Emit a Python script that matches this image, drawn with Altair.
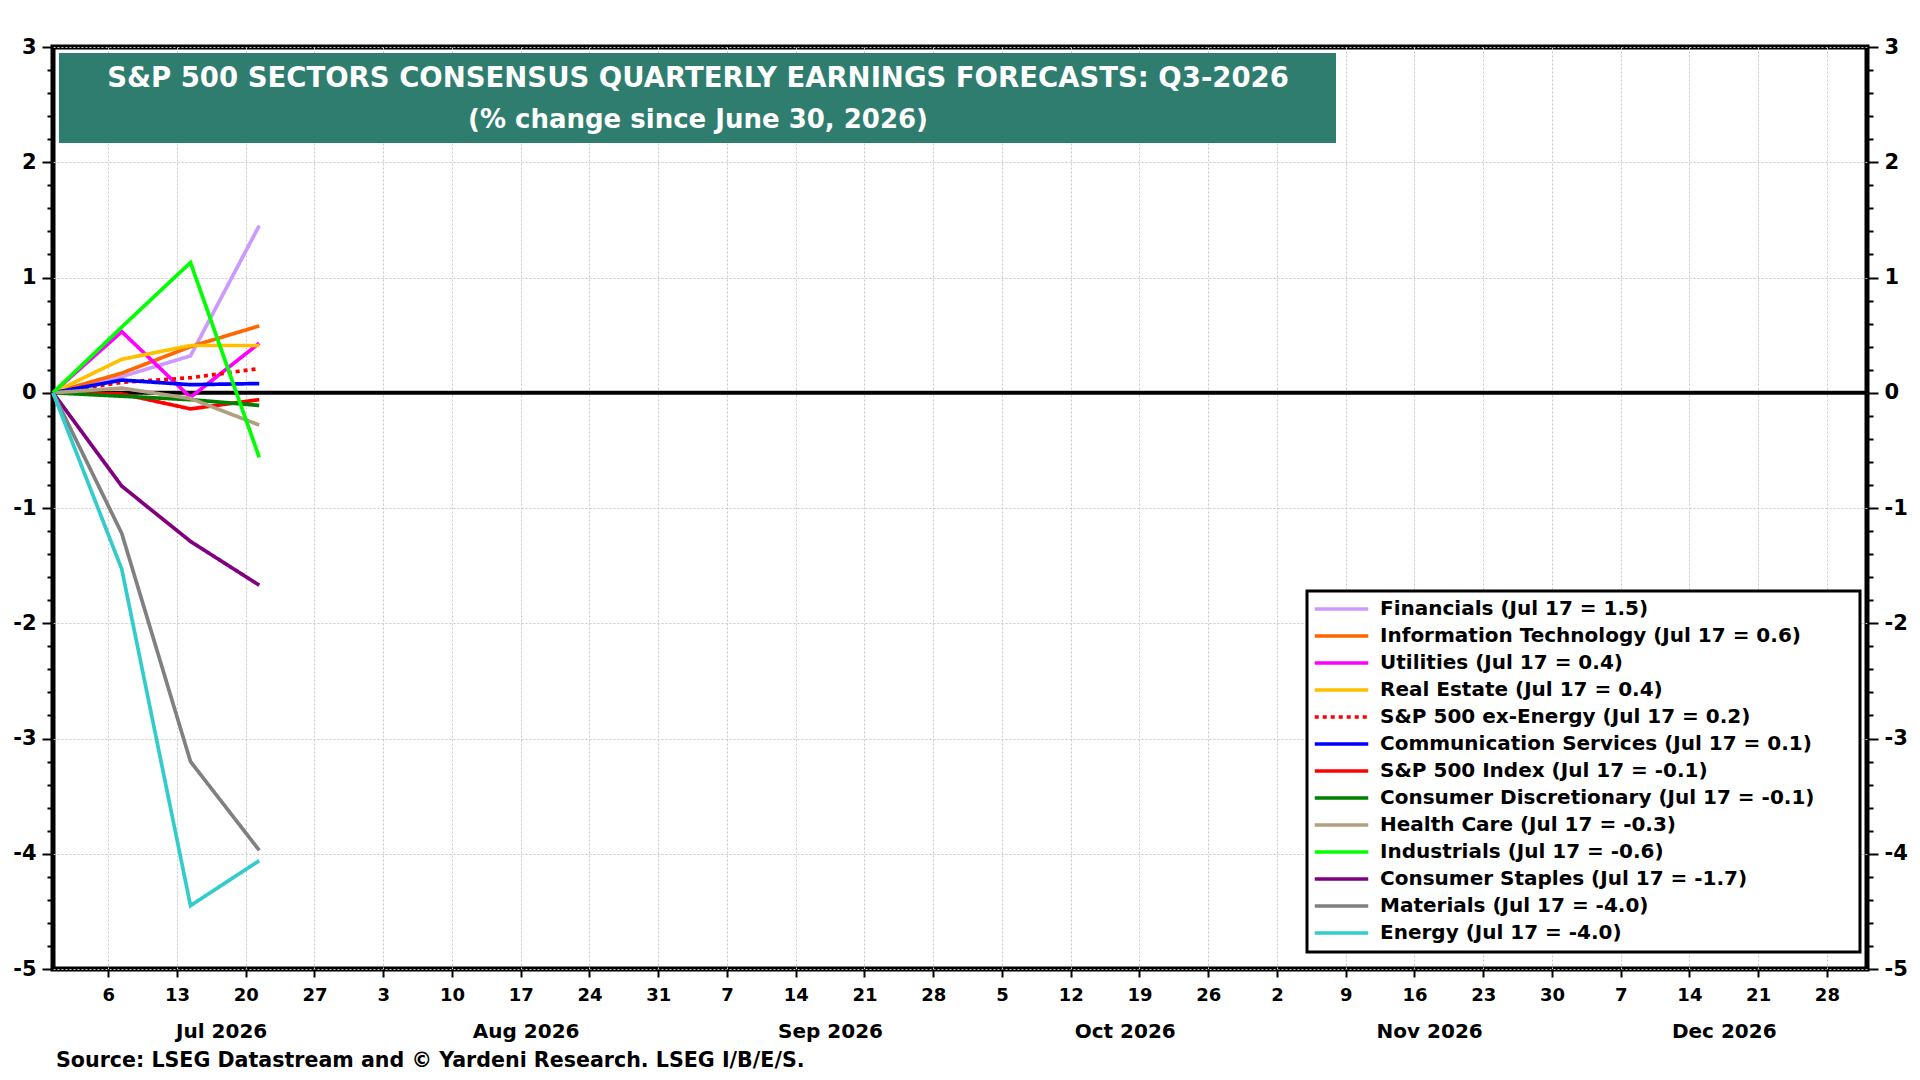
import altair as alt
import pandas as pd

# ---------------- data ----------------
dates = ["2026-06-30T09:00:00Z", "2026-07-07T09:00:00Z",
         "2026-07-14T09:00:00Z", "2026-07-21T09:00:00Z"]

series_names = [
    "Financials (Jul 17 = 1.5)",
    "Information Technology (Jul 17 = 0.6)",
    "Utilities (Jul 17 = 0.4)",
    "Real Estate (Jul 17 = 0.4)",
    "S&P 500 ex-Energy (Jul 17 = 0.2)",
    "Communication Services (Jul 17 = 0.1)",
    "S&P 500 Index (Jul 17 = -0.1)",
    "Consumer Discretionary (Jul 17 = -0.1)",
    "Health Care (Jul 17 = -0.3)",
    "Industrials (Jul 17 = -0.6)",
    "Consumer Staples (Jul 17 = -1.7)",
    "Materials (Jul 17 = -4.0)",
    "Energy (Jul 17 = -4.0)",
]

financials = [0.0, 0.14, 0.32, 1.45]
info_tech = [0.0, 0.17, 0.40, 0.58]
utilities = [0.0, 0.53, -0.04, 0.43]
real_estate = [0.0, 0.29, 0.41, 0.41]
sp500_ex_energy = [0.0, 0.09, 0.13, 0.21]
comm_services = [0.0, 0.11, 0.07, 0.08]
sp500 = [0.0, -0.01, -0.14, -0.06]
cons_disc = [0.0, -0.03, -0.06, -0.11]
health_care = [0.0, 0.04, -0.05, -0.28]
industrials = [0.0, 0.57, 1.13, -0.56]
cons_staples = [0.0, -0.81, -1.29, -1.67]
materials = [0.0, -1.22, -3.20, -3.97]
energy = [0.0, -1.53, -4.45, -4.06]

series_values = [financials, info_tech, utilities, real_estate, sp500_ex_energy,
                 comm_services, sp500, cons_disc, health_care, industrials,
                 cons_staples, materials, energy]

series_colors = ["#CC99FF", "#FF6600", "#FF00FF", "#FFC000", "#FF0000",
                 "#0000FF", "#FF0000", "#008000", "#B0A080", "#00FF00",
                 "#800080", "#808080", "#33CCCC"]
series_dash = [[1, 0], [1, 0], [1, 0], [1, 0], [4, 4],
               [1, 0], [1, 0], [1, 0], [1, 0], [1, 0],
               [1, 0], [1, 0], [1, 0]]

# x tick labels (Mondays) and month labels
monday_ticks = [(7, 6), (7, 13), (7, 20), (7, 27), (8, 3), (8, 10), (8, 17), (8, 24),
                (8, 31), (9, 7), (9, 14), (9, 21), (9, 28), (10, 5), (10, 12), (10, 19),
                (10, 26), (11, 2), (11, 9), (11, 16), (11, 23), (11, 30), (12, 7),
                (12, 14), (12, 21), (12, 28)]
month_label_pos = [(7, 17), (8, 17), (9, 17), (10, 17), (11, 17), (12, 17)]

y_ticks = [round(-5 + 0.2 * i, 1) for i in range(41)]

title_line1 = "S&P 500 SECTORS CONSENSUS QUARTERLY EARNINGS FORECASTS: Q3-2026"
title_line2 = "(% change since June 30, 2026)"
source_text = "Source: LSEG Datastream and \u00a9 Yardeni Research. LSEG I/B/E/S."

# ---------------- build table ----------------
rows = []
for name, vals in zip(series_names, series_values):
    for d, v in zip(dates, vals):
        rows.append({"date": d, "value": v, "series": name})
df = pd.DataFrame(rows)

FONT = "DejaVu Sans"

x_scale = alt.Scale(type="utc",
                    domain=[alt.DateTime(year=2026, month=6, date=30, hours=9, utc=True),
                            alt.DateTime(year=2027, month=1, date=1, hours=2, utc=True)])
y_scale = alt.Scale(domain=[-5, 3], nice=False, zero=False)

is_int = "abs(datum.value - round(datum.value)) < 0.001"

def y_axis(orient, grid):
    return alt.Axis(
        orient=orient, values=y_ticks, title=None, domain=False,
        labelExpr=f"{is_int} ? toString(round(datum.value)) : ''",
        tickSize={"condition": {"test": is_int, "value": 11}, "value": 6},
        tickWidth=2, tickColor="black",
        labelFont=FONT, labelFontSize=21, labelFontWeight="bold", labelColor="black",
        labelPadding=6, labelOverlap=False,
        grid=grid, gridColor="#c8c8c8", gridDash=[2, 2], gridWidth=1,
        gridOpacity={"condition": {"test": is_int, "value": 1}, "value": 0},
    )

day_axis = alt.Axis(
    orient="bottom", title=None, domain=False,
    values=[alt.DateTime(year=2026, month=m, date=d, utc=True) for m, d in monday_ticks],
    labelExpr="'' + utcdate(datum.value)",
    tickSize=8, tickWidth=2, tickColor="black",
    labelFont=FONT, labelFontSize=18, labelFontWeight="bold", labelColor="black",
    labelPadding=9, labelFlush=False, labelOverlap=False,
    grid=True, gridColor="#c8c8c8", gridDash=[2, 2], gridWidth=1,
)

month_axis = alt.Axis(
    orient="bottom", title=None, domain=False, ticks=False, tickSize=0, grid=False,
    values=[alt.DateTime(year=2026, month=m, date=d, hours=12, utc=True) for m, d in month_label_pos],
    labelExpr="utcFormat(datum.value, '%b %Y')",
    labelFont=FONT, labelFontSize=20, labelFontWeight="bold", labelColor="black",
    labelPadding=52, labelFlush=False, labelOverlap=False,
)

legend = alt.Legend(
    orient="none", legendX=1253, legendY=544, title=None,
    labelFont=FONT, labelFontSize=20, labelFontWeight="bold", labelColor="black",
    labelLimit=800, labelOffset=10,
    symbolType="stroke", symbolSize=2862, symbolStrokeWidth=3.5,
    clipHeight=22, rowPadding=5, padding=7,
)

legend_box = alt.Chart(pd.DataFrame({"k": [0]})).mark_rect(
    fill="white", stroke="black", strokeWidth=3
).encode(
    x=alt.value(1254), x2=alt.value(1807), y=alt.value(544), y2=alt.value(905),
)

lines = alt.Chart(df).mark_line(strokeWidth=3.7, strokeCap="butt").encode(
    x=alt.X("date:T", scale=x_scale, axis=day_axis),
    y=alt.Y("value:Q", scale=y_scale, axis=y_axis("left", True)),
    color=alt.Color("series:N", scale=alt.Scale(domain=series_names, range=series_colors),
                    legend=legend),
    strokeDash=alt.StrokeDash("series:N", scale=alt.Scale(domain=series_names, range=series_dash),
                              legend=legend),
    order=alt.Order("date:T"),
)

zero_line = alt.Chart(pd.DataFrame({"z": [0]})).mark_rule(color="black", strokeWidth=4).encode(
    y=alt.Y("z:Q", scale=y_scale, axis=None),
)

right_axis_layer = alt.Chart(df).mark_line(opacity=0).encode(
    x=alt.X("date:T", scale=x_scale, axis=month_axis),
    y=alt.Y("value:Q", scale=y_scale, axis=y_axis("right", False)),
    detail="series:N",
)

title_box = alt.Chart(pd.DataFrame({"k": [0]})).mark_rect(color="#2E7D6F").encode(
    x=alt.value(6), x2=alt.value(1283), y=alt.value(6), y2=alt.value(96),
)
title_text1 = alt.Chart(pd.DataFrame({"t": [title_line1]})).mark_text(
    font=FONT, fontSize=27.5, fontWeight="bold", color="white", align="center", baseline="alphabetic",
).encode(x=alt.value(645), y=alt.value(40), text="t:N")
title_text2 = alt.Chart(pd.DataFrame({"t": [title_line2]})).mark_text(
    font=FONT, fontSize=26, fontWeight="bold", color="white", align="center", baseline="alphabetic",
).encode(x=alt.value(645), y=alt.value(81), text="t:N")

source = alt.Chart(pd.DataFrame({"s": [source_text]})).mark_text(
    font=FONT, fontSize=20.6, fontWeight="bold", color="black", align="left", baseline="alphabetic",
).encode(x=alt.value(3), y=alt.value(1020), text="s:N")

chart = alt.layer(
    zero_line, legend_box, lines, right_axis_layer, title_box, title_text1, title_text2, source
).resolve_scale(
    x="shared", y="independent"
).resolve_axis(
    x="independent", y="independent"
).properties(
    width=1814, height=922,
    autosize=alt.AutoSizeParams(type="none"),
    padding={"left": 45, "top": 39, "right": 45, "bottom": 107},
    background="white",
).configure_view(
    stroke="black", strokeWidth=5
)

chart.save("out.html", embed_options={"renderer": "svg", "actions": False})
